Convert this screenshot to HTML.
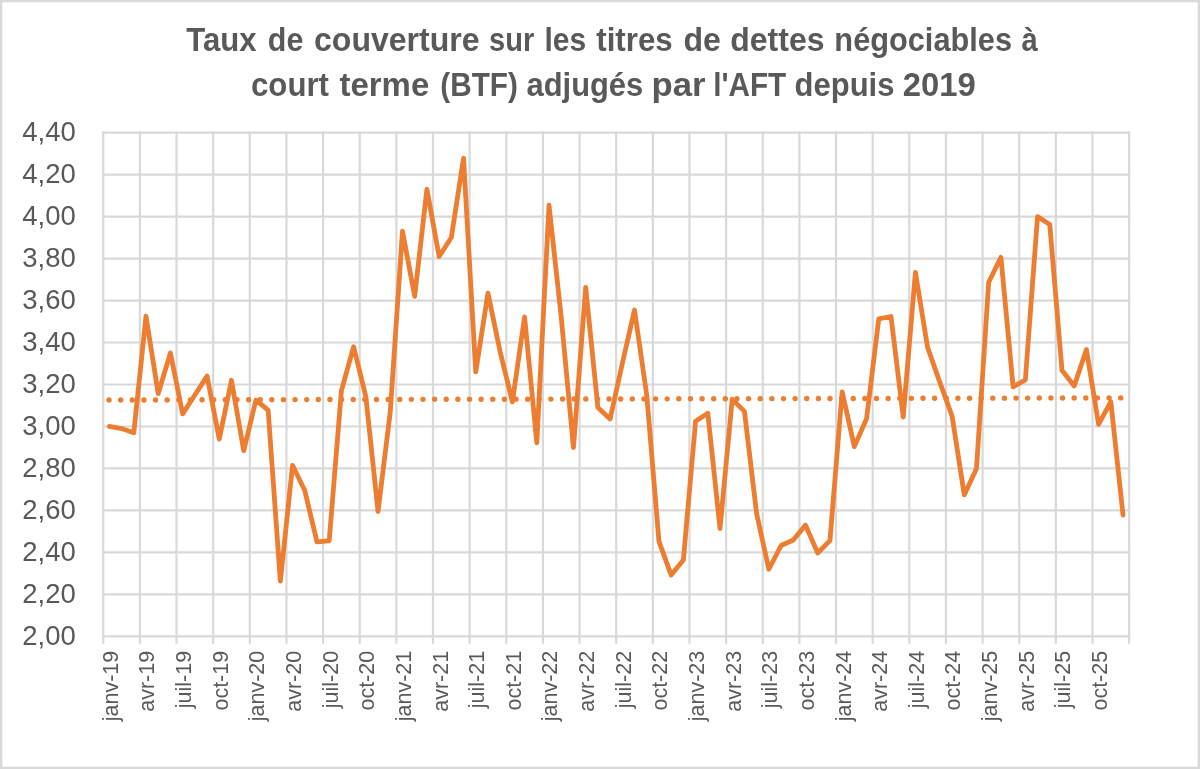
<!DOCTYPE html>
<html><head><meta charset="utf-8"><title>Taux de couverture BTF</title>
<style>
html,body{margin:0;padding:0;background:#fff;}
body{width:1200px;height:769px;overflow:hidden;}
svg{display:block;will-change:transform;font-family:"Liberation Sans",sans-serif;}
</style></head>
<body>
<svg width="1200" height="769" viewBox="0 0 1200 769">
<rect x="0" y="0" width="1200" height="769" fill="#fff"/>
<rect x="1.15" y="1.15" width="1197.7" height="766.7" fill="none" stroke="#d9d9d9" stroke-width="2.3"/>
<g stroke="#d9d9d9" stroke-width="2.2" fill="none">
<line x1="102.15" y1="636.40" x2="1130.25" y2="636.40"/>
<line x1="102.15" y1="594.42" x2="1130.25" y2="594.42"/>
<line x1="102.15" y1="552.43" x2="1130.25" y2="552.43"/>
<line x1="102.15" y1="510.45" x2="1130.25" y2="510.45"/>
<line x1="102.15" y1="468.47" x2="1130.25" y2="468.47"/>
<line x1="102.15" y1="426.48" x2="1130.25" y2="426.48"/>
<line x1="102.15" y1="384.50" x2="1130.25" y2="384.50"/>
<line x1="102.15" y1="342.52" x2="1130.25" y2="342.52"/>
<line x1="102.15" y1="300.53" x2="1130.25" y2="300.53"/>
<line x1="102.15" y1="258.55" x2="1130.25" y2="258.55"/>
<line x1="102.15" y1="216.57" x2="1130.25" y2="216.57"/>
<line x1="102.15" y1="174.58" x2="1130.25" y2="174.58"/>
<line x1="102.15" y1="132.60" x2="1130.25" y2="132.60"/>
<line x1="103.25" y1="131.50" x2="103.25" y2="643.70"/>
<line x1="139.89" y1="131.50" x2="139.89" y2="643.70"/>
<line x1="176.53" y1="131.50" x2="176.53" y2="643.70"/>
<line x1="213.17" y1="131.50" x2="213.17" y2="643.70"/>
<line x1="249.81" y1="131.50" x2="249.81" y2="643.70"/>
<line x1="286.45" y1="131.50" x2="286.45" y2="643.70"/>
<line x1="323.09" y1="131.50" x2="323.09" y2="643.70"/>
<line x1="359.73" y1="131.50" x2="359.73" y2="643.70"/>
<line x1="396.36" y1="131.50" x2="396.36" y2="643.70"/>
<line x1="433.00" y1="131.50" x2="433.00" y2="643.70"/>
<line x1="469.64" y1="131.50" x2="469.64" y2="643.70"/>
<line x1="506.28" y1="131.50" x2="506.28" y2="643.70"/>
<line x1="542.92" y1="131.50" x2="542.92" y2="643.70"/>
<line x1="579.56" y1="131.50" x2="579.56" y2="643.70"/>
<line x1="616.20" y1="131.50" x2="616.20" y2="643.70"/>
<line x1="652.84" y1="131.50" x2="652.84" y2="643.70"/>
<line x1="689.48" y1="131.50" x2="689.48" y2="643.70"/>
<line x1="726.12" y1="131.50" x2="726.12" y2="643.70"/>
<line x1="762.76" y1="131.50" x2="762.76" y2="643.70"/>
<line x1="799.40" y1="131.50" x2="799.40" y2="643.70"/>
<line x1="836.04" y1="131.50" x2="836.04" y2="643.70"/>
<line x1="872.68" y1="131.50" x2="872.68" y2="643.70"/>
<line x1="909.31" y1="131.50" x2="909.31" y2="643.70"/>
<line x1="945.95" y1="131.50" x2="945.95" y2="643.70"/>
<line x1="982.59" y1="131.50" x2="982.59" y2="643.70"/>
<line x1="1019.23" y1="131.50" x2="1019.23" y2="643.70"/>
<line x1="1055.87" y1="131.50" x2="1055.87" y2="643.70"/>
<line x1="1092.51" y1="131.50" x2="1092.51" y2="643.70"/>
<line x1="1129.15" y1="131.50" x2="1129.15" y2="643.70"/>
</g>
<g fill="#595959" font-weight="bold" font-size="32.5">
<text transform="translate(186.25,51.4) scale(0.9589,1)">Taux</text>
<text transform="translate(267.81,51.4) scale(0.9375,1)">de</text>
<text transform="translate(314.01,51.4) scale(0.9864,1)">couverture</text>
<text transform="translate(489.11,51.4) scale(0.8929,1)">sur</text>
<text transform="translate(544.40,51.4) scale(0.9226,1)">les</text>
<text transform="translate(596.25,51.4) scale(0.9615,1)">titres</text>
<text transform="translate(683.51,51.4) scale(0.9861,1)">de</text>
<text transform="translate(730.27,51.4) scale(0.9840,1)">dettes</text>
<text transform="translate(834.36,51.4) scale(0.9459,1)">négociables</text>
<text transform="translate(1021.60,51.4) scale(0.9000,1)">à</text>
<text transform="translate(251.04,96.3) scale(0.9594,1)">court</text>
<text transform="translate(339.50,96.3) scale(1.0142,1)">terme</text>
<text transform="translate(440.34,96.3) scale(0.9146,1)">(BTF)</text>
<text transform="translate(526.55,96.3) scale(0.9504,1)">adjugés</text>
<text transform="translate(651.61,96.3) scale(1.0677,1)">par</text>
<text transform="translate(713.17,96.3) scale(0.9135,1)">l'AFT</text>
<text transform="translate(794.55,96.3) scale(0.9539,1)">depuis</text>
<text transform="translate(902.74,96.3) scale(1.0107,1)">2019</text>
</g>
<g fill="#595959" font-size="27.5">
<text x="75.8" y="644.80" text-anchor="end">2,00</text>
<text x="75.8" y="602.82" text-anchor="end">2,20</text>
<text x="75.8" y="560.83" text-anchor="end">2,40</text>
<text x="75.8" y="518.85" text-anchor="end">2,60</text>
<text x="75.8" y="476.87" text-anchor="end">2,80</text>
<text x="75.8" y="434.88" text-anchor="end">3,00</text>
<text x="75.8" y="392.90" text-anchor="end">3,20</text>
<text x="75.8" y="350.92" text-anchor="end">3,40</text>
<text x="75.8" y="308.93" text-anchor="end">3,60</text>
<text x="75.8" y="266.95" text-anchor="end">3,80</text>
<text x="75.8" y="224.97" text-anchor="end">4,00</text>
<text x="75.8" y="182.98" text-anchor="end">4,20</text>
<text x="75.8" y="141.00" text-anchor="end">4,40</text>
</g>
<g fill="#595959" font-size="21.5">
<text transform="translate(117.76,650.80) rotate(-90)" text-anchor="end">janv-19</text>
<text transform="translate(154.40,650.80) rotate(-90)" text-anchor="end">avr-19</text>
<text transform="translate(191.04,650.80) rotate(-90)" text-anchor="end">juil-19</text>
<text transform="translate(227.67,650.80) rotate(-90)" text-anchor="end">oct-19</text>
<text transform="translate(264.31,650.80) rotate(-90)" text-anchor="end">janv-20</text>
<text transform="translate(300.95,650.80) rotate(-90)" text-anchor="end">avr-20</text>
<text transform="translate(337.59,650.80) rotate(-90)" text-anchor="end">juil-20</text>
<text transform="translate(374.23,650.80) rotate(-90)" text-anchor="end">oct-20</text>
<text transform="translate(410.87,650.80) rotate(-90)" text-anchor="end">janv-21</text>
<text transform="translate(447.51,650.80) rotate(-90)" text-anchor="end">avr-21</text>
<text transform="translate(484.15,650.80) rotate(-90)" text-anchor="end">juil-21</text>
<text transform="translate(520.79,650.80) rotate(-90)" text-anchor="end">oct-21</text>
<text transform="translate(557.43,650.80) rotate(-90)" text-anchor="end">janv-22</text>
<text transform="translate(594.07,650.80) rotate(-90)" text-anchor="end">avr-22</text>
<text transform="translate(630.71,650.80) rotate(-90)" text-anchor="end">juil-22</text>
<text transform="translate(667.35,650.80) rotate(-90)" text-anchor="end">oct-22</text>
<text transform="translate(703.99,650.80) rotate(-90)" text-anchor="end">janv-23</text>
<text transform="translate(740.62,650.80) rotate(-90)" text-anchor="end">avr-23</text>
<text transform="translate(777.26,650.80) rotate(-90)" text-anchor="end">juil-23</text>
<text transform="translate(813.90,650.80) rotate(-90)" text-anchor="end">oct-23</text>
<text transform="translate(850.54,650.80) rotate(-90)" text-anchor="end">janv-24</text>
<text transform="translate(887.18,650.80) rotate(-90)" text-anchor="end">avr-24</text>
<text transform="translate(923.82,650.80) rotate(-90)" text-anchor="end">juil-24</text>
<text transform="translate(960.46,650.80) rotate(-90)" text-anchor="end">oct-24</text>
<text transform="translate(997.10,650.80) rotate(-90)" text-anchor="end">janv-25</text>
<text transform="translate(1033.74,650.80) rotate(-90)" text-anchor="end">avr-25</text>
<text transform="translate(1070.38,650.80) rotate(-90)" text-anchor="end">juil-25</text>
<text transform="translate(1107.02,650.80) rotate(-90)" text-anchor="end">oct-25</text>
</g>
<line x1="109.03" y1="400.0" x2="1121.2" y2="397.9" stroke="#ED7D31" stroke-width="5.4" stroke-linecap="round" stroke-dasharray="0 11.6284"/>
<polyline points="109.36,426.48 121.57,428.58 133.78,432.78 146.00,316.28 158.21,393.53 170.42,353.01 182.64,413.89 194.85,395.00 207.06,376.10 219.27,439.08 231.49,380.30 243.70,450.62 255.91,400.24 268.13,410.11 280.34,581.19 292.55,465.32 304.77,490.51 316.98,541.94 329.19,540.89 341.41,390.80 353.62,346.72 365.83,396.47 378.04,511.50 390.26,411.79 402.47,231.26 414.68,296.33 426.90,189.28 439.11,256.45 451.32,237.56 463.54,158.21 475.75,371.91 487.96,293.19 500.18,351.96 512.39,401.92 524.60,316.91 536.81,442.86 549.03,205.23 561.24,317.33 573.45,447.48 585.67,287.31 597.88,407.59 610.09,418.93 622.31,363.51 634.52,309.98 646.73,395.00 658.95,541.31 671.16,575.10 683.37,559.99 695.59,421.24 707.80,413.26 720.01,528.50 732.22,399.19 744.44,411.37 756.65,513.81 768.86,569.23 781.08,545.51 793.29,540.05 805.50,525.14 817.72,553.06 829.93,540.68 842.14,391.85 854.36,446.64 866.57,418.72 878.78,318.80 890.99,316.49 903.21,417.04 915.42,272.40 927.63,347.55 939.85,382.40 952.06,415.99 964.27,494.92 976.49,468.47 988.70,282.27 1000.91,257.29 1013.13,386.81 1025.34,379.88 1037.55,216.57 1049.76,224.54 1061.98,370.23 1074.19,385.97 1086.40,349.44 1098.62,424.38 1110.83,401.71 1123.04,515.07" fill="none" stroke="#ED7D31" stroke-width="4.8" stroke-linejoin="round" stroke-linecap="round"/>
</svg>
</body></html>
